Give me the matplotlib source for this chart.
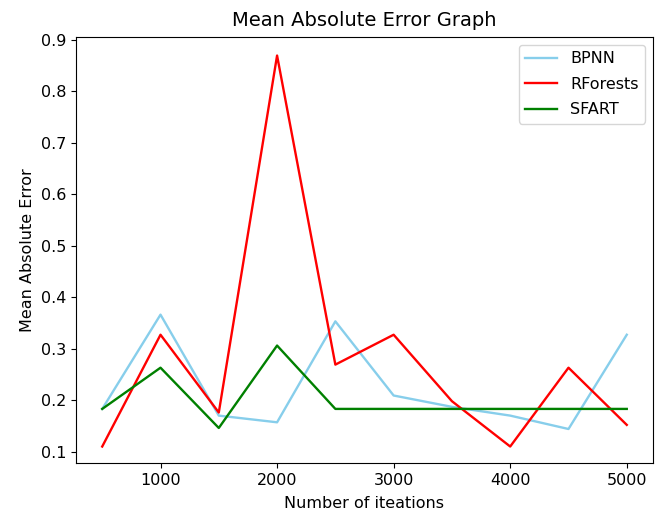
import matplotlib
matplotlib.use("Agg")
import matplotlib.pyplot as plt

iterations = [500, 1000, 1500, 2000, 2500, 3000, 3500, 4000, 4500, 5000]
bpnn = [0.183, 0.366, 0.170, 0.157, 0.353, 0.209, 0.187, 0.170, 0.144, 0.327]
rforests = [0.110, 0.327, 0.176, 0.869, 0.269, 0.327, 0.198, 0.110, 0.263, 0.152]
sfart = [0.183, 0.263, 0.146, 0.306, 0.183, 0.183, 0.183, 0.183, 0.183, 0.183]

plt.rcParams['font.size'] = 11.5
fig = plt.figure(figsize=(6.63, 5.14), dpi=100)
ax = fig.add_axes([76/663, 1 - 463/514, (653-76)/663, (463-37)/514])
ax.plot(iterations, bpnn, color="skyblue", label="BPNN", lw=1.7)
ax.plot(iterations, rforests, color="red", label="RForests", lw=1.7)
ax.plot(iterations, sfart, color="green", label="SFART", lw=1.7)
ax.set_ylim(0.078, 0.905)
ax.set_title("Mean Absolute Error Graph", fontsize=14, pad=8)
ax.set_xlabel("Number of iteations", labelpad=6)
ax.set_ylabel("Mean Absolute Error")
ax.legend(loc="upper right", labelspacing=0.65, borderaxespad=0.5)
fig.savefig("out.png", dpi=100)
